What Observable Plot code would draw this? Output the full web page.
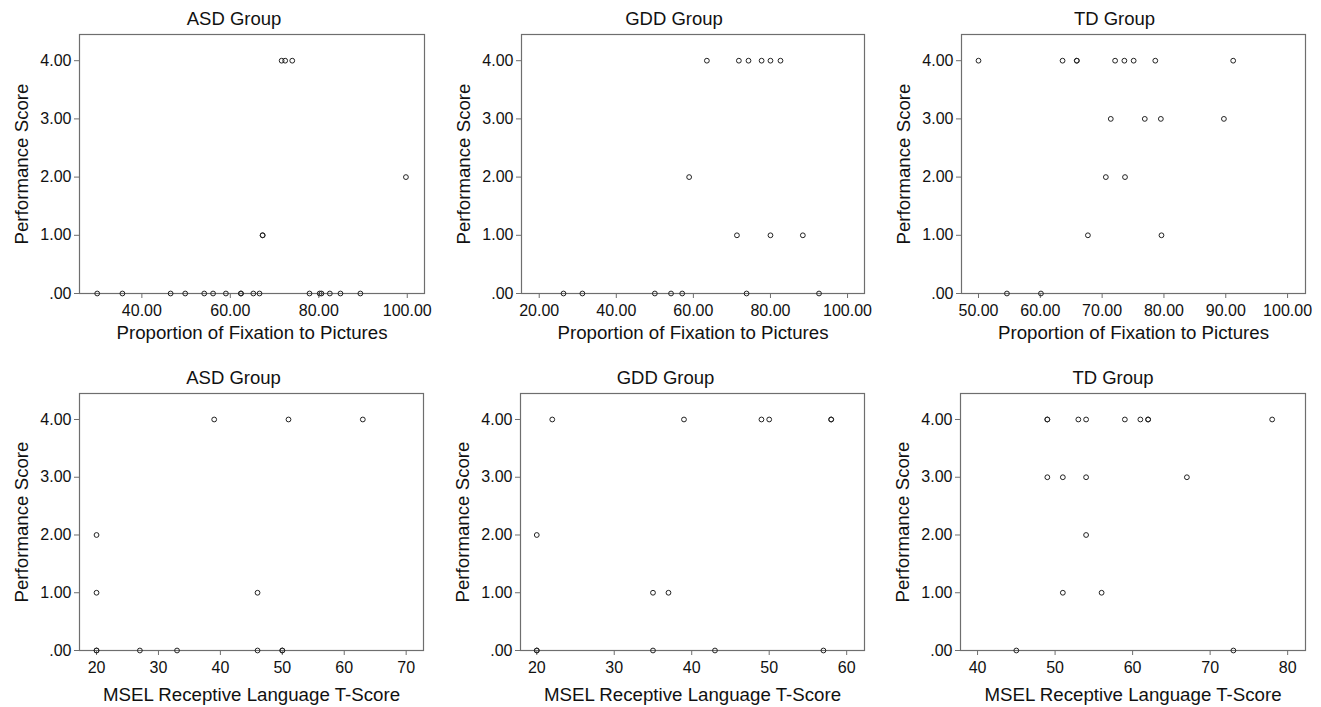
<!DOCTYPE html>
<html>
<head>
<meta charset="utf-8">
<script src="https://cdn.jsdelivr.net/npm/d3@7"></script>
<script src="https://cdn.jsdelivr.net/npm/@observablehq/plot@0.6"></script>
<style>
  html, body { margin: 0; padding: 0; background: #fff; }
  #wrap { position: relative; width: 1321px; height: 707px; overflow: hidden; }
  #wrap > div { position: absolute; }
  svg { overflow: visible; }
</style>
</head>
<body>
<div id="wrap"></div>
<script>
// ---- Data ----
const groupTitles = ["ASD Group", "GDD Group", "TD Group"];
const xLabelFixation = "Proportion of Fixation to Pictures";
const xLabelMsel = "MSEL Receptive Language T-Score";
const yLabel = "Performance Score";

const yTicks = [0, 1, 2, 3, 4];
const yTickLabels = [".00", "1.00", "2.00", "3.00", "4.00"];

// Top row: proportion of fixation to pictures vs performance score
const asdFixation      = [29.9, 35.6, 46.5, 49.8, 54.1, 56.1, 59.0, 62.4, 62.4, 65.2, 66.6, 77.9, 80.2, 80.6, 82.5, 84.9, 89.4, 67.3, 67.3, 99.7, 71.6, 72.4, 74.0];
const asdFixationScore = [0,    0,    0,    0,    0,    0,    0,    0,    0,    0,    0,    0,    0,    0,    0,    0,    0,    1,    1,    2,    4,    4,    4];

const gddFixation      = [26.3, 31.2, 50.0, 54.2, 57.1, 73.8, 92.6, 71.3, 80.0, 88.4, 58.9, 63.5, 71.8, 74.3, 77.7, 80.0, 82.6];
const gddFixationScore = [0,    0,    0,    0,    0,    0,    0,    1,    1,    1,    2,    4,    4,    4,    4,    4,    4];

const tdFixation      = [54.6, 60.1, 67.7, 79.6, 70.6, 73.7, 71.4, 76.9, 79.5, 89.7, 50.0, 63.6, 65.9, 65.9, 72.1, 73.6, 75.1, 78.6, 91.2];
const tdFixationScore = [0,    0,    1,    1,    2,    2,    3,    3,    3,    3,    4,    4,    4,    4,    4,    4,    4,    4,    4];

// Bottom row: MSEL receptive language T-score vs performance score
const asdMsel      = [20, 20, 27, 33, 46, 50, 50, 20, 46, 20, 39, 51, 63];
const asdMselScore = [0,  0,  0,  0,  0,  0,  0,  1,  1,  2,  4,  4,  4];

const gddMsel      = [20, 20, 35, 43, 57, 35, 37, 20, 22, 39, 49, 50, 58, 58];
const gddMselScore = [0,  0,  0,  0,  0,  1,  1,  2,  4,  4,  4,  4,  4,  4];

const tdMsel      = [45, 73, 51, 56, 54, 49, 51, 54, 67, 49, 49, 53, 54, 59, 61, 62, 62, 78];
const tdMselScore = [0,  0,  1,  1,  2,  3,  3,  3,  3,  4,  4,  4,  4,  4,  4,  4,  4,  4];

// Tick values
const asdFixTicks = [40, 60, 80, 100];
const gddFixTicks = [20, 40, 60, 80, 100];
const tdFixTicks  = [50, 60, 70, 80, 90, 100];
const asdMselTicks = [20, 30, 40, 50, 60, 70];
const gddMselTicks = [20, 30, 40, 50, 60];
const tdMselTicks  = [40, 50, 60, 70, 80];

// ---- Layout ----
const fmt2 = d => d.toFixed(2);
const fmt0 = d => String(d);

const panels = [
  {title: groupTitles[0], xLabel: xLabelFixation, xs: asdFixation, ys: asdFixationScore, ticks: asdFixTicks, fmt: fmt2,
   left: 0, top: 0, w: 440, h: 345, mL: 79, mR: 16, mT: 34, mB: 52, dom: [25.9, 103.9], tdx: -18, ldy: 40},
  {title: groupTitles[1], xLabel: xLabelFixation, xs: gddFixation, ys: gddFixationScore, ticks: gddFixTicks, fmt: fmt2,
   left: 440, top: 0, w: 440, h: 345, mL: 81, mR: 16, mT: 34, mB: 52, dom: [15.4, 104.4], tdx: -19, ldy: 40},
  {title: groupTitles[2], xLabel: xLabelFixation, xs: tdFixation, ys: tdFixationScore, ticks: tdFixTicks, fmt: fmt2,
   left: 880, top: 0, w: 441, h: 345, mL: 81, mR: 16, mT: 34, mB: 52, dom: [47.25, 102.9], tdx: -19, ldy: 40},
  {title: groupTitles[0], xLabel: xLabelMsel, xs: asdMsel, ys: asdMselScore, ticks: asdMselTicks, fmt: fmt0,
   left: 0, top: 345, w: 440, h: 362, mL: 79, mR: 17, mT: 48, mB: 57, dom: [17.25, 72.8], tdx: -18, ldy: 45},
  {title: groupTitles[1], xLabel: xLabelMsel, xs: gddMsel, ys: gddMselScore, ticks: gddMselTicks, fmt: fmt0,
   left: 440, top: 345, w: 440, h: 362, mL: 80, mR: 16, mT: 48, mB: 57, dom: [17.9, 62.3], tdx: -27, ldy: 45},
  {title: groupTitles[2], xLabel: xLabelMsel, xs: tdMsel, ys: tdMselScore, ticks: tdMselTicks, fmt: fmt0,
   left: 880, top: 345, w: 441, h: 362, mL: 80, mR: 16, mT: 48, mB: 57, dom: [37.8, 82.3], tdx: -20, ldy: 45}
];

const wrap = document.getElementById("wrap");
const frameGray = "#6e6e6e";

for (const p of panels) {
  const data = p.xs.map((x, i) => ({x, y: p.ys[i]}));
  const chart = Plot.plot({
    width: p.w,
    height: p.h,
    marginLeft: p.mL,
    marginRight: p.mR,
    marginTop: p.mT,
    marginBottom: p.mB,
    x: {domain: p.dom},
    y: {domain: [0, 4.45]},
    style: {fontFamily: "'Liberation Sans', Arial, sans-serif", fontSize: "16px", color: "#111", background: "transparent"},
    marks: [
      Plot.frame({stroke: frameGray, strokeWidth: 1.2}),
      Plot.axisX({ticks: p.ticks, tickFormat: p.fmt, tickSize: 5, tickPadding: 6, label: null, stroke: frameGray, fontSize: 16}),
      Plot.axisY({ticks: yTicks, tickFormat: d => yTickLabels[yTicks.indexOf(d)], tickSize: 5, tickPadding: 3, label: null, stroke: frameGray, fontSize: 16}),
      Plot.dot(data, {x: "x", y: "y", r: 2.4, stroke: "#222", strokeWidth: 1, fill: "none"}),
      Plot.text([p.title], {text: d => d, frameAnchor: "top", lineAnchor: "middle", textAnchor: "middle", dy: -15, dx: p.tdx, fontSize: 18.5, fill: "#111"}),
      Plot.text([p.xLabel], {text: d => d, frameAnchor: "bottom", lineAnchor: "middle", textAnchor: "middle", dy: p.ldy, fontSize: 18.7, fill: "#111"}),
      Plot.text([yLabel], {text: d => d, frameAnchor: "left", lineAnchor: "middle", textAnchor: "middle", rotate: -90, dx: -57, fontSize: 18.7, fill: "#111"})
    ]
  });
  const holder = document.createElement("div");
  holder.style.left = p.left + "px";
  holder.style.top = p.top + "px";
  holder.appendChild(chart);
  wrap.appendChild(holder);
}
</script>
</body>
</html>
